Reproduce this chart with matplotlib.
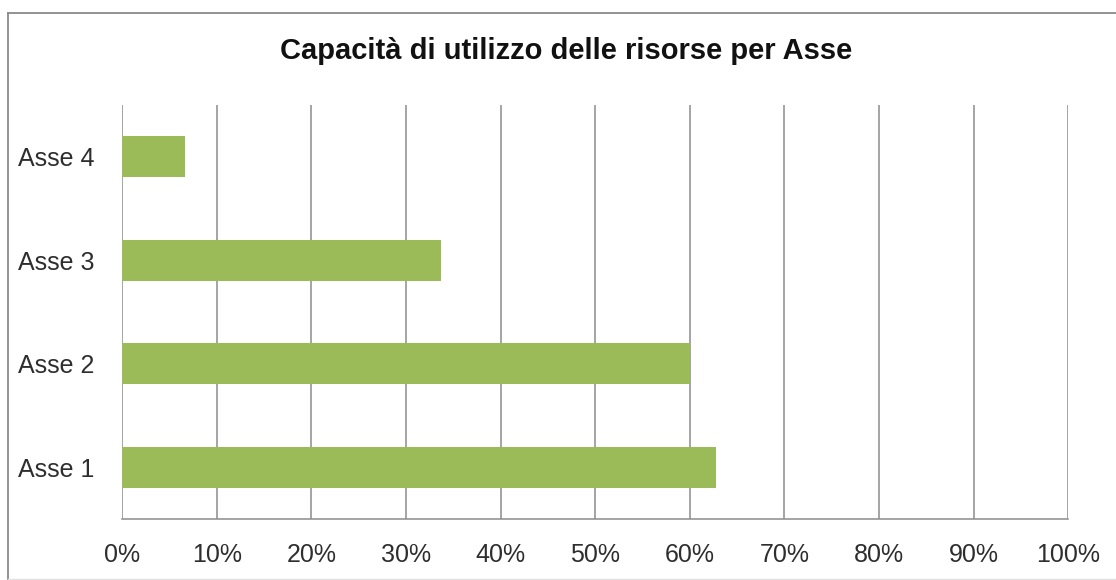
import matplotlib.pyplot as plt
from matplotlib.lines import Line2D

categorie = ["Asse 1", "Asse 2", "Asse 3", "Asse 4"]
capacita = [62.8, 60.0, 33.7, 6.7]
tick_pct = [0, 10, 20, 30, 40, 50, 60, 70, 80, 90, 100]
titolo = "Capacità di utilizzo delle risorse per Asse"

font = ["Liberation Sans Narrow", "Liberation Sans", "DejaVu Sans"]
W, H = 1116, 580

fig = plt.figure(figsize=(W / 100, H / 100), dpi=100)
fig.patch.set_facecolor("white")

# cornice del grafico (tagliata a destra)
x0, y0, y1 = 7.5 / W, 1 - 12.5 / H, 1 - 578.5 / H
fig.lines.append(Line2D([x0, 1.0], [y0, y0], transform=fig.transFigure, color="#8a8a8a", lw=1.3))
fig.lines.append(Line2D([x0, x0], [y1, y0], transform=fig.transFigure, color="#8a8a8a", lw=1.3))
fig.lines.append(Line2D([x0, 1.0], [y1, y1], transform=fig.transFigure, color="#e2e2e2", lw=1.0))

ax = fig.add_axes([122 / W, 1 - 519 / H, (1068.3 - 122) / W, (519 - 105) / H])
ax.barh(range(len(categorie)), capacita, height=0.4, color="#9BBB59", zorder=3)

ax.set_xlim(0, 100)
ax.set_ylim(-0.5, len(categorie) - 0.5)
ax.set_xticks(tick_pct)
ax.set_xticklabels([f"{t}%" for t in tick_pct], family=font, fontsize=18, color="#2e2e2e")
ax.set_yticks(range(len(categorie)))
ax.set_yticklabels(categorie, family=font, fontsize=18, color="#2e2e2e")
ax.tick_params(axis="x", length=0, pad=17)
ax.tick_params(axis="y", length=0, pad=20)

ax.grid(axis="x", color="#8c8c8c", linewidth=1.1, zorder=0)
for s in ["top", "right", "left"]:
    ax.spines[s].set_visible(False)
ax.spines["bottom"].set_color("#8c8c8c")
ax.spines["bottom"].set_linewidth(1.1)

fig.text(0.5 * (283 + 850) / W, 1 - 51 / H, titolo, ha="center", va="center",
         family=font, fontsize=21, fontweight="bold", color="#111111")

fig.savefig("out.png", dpi=100)
